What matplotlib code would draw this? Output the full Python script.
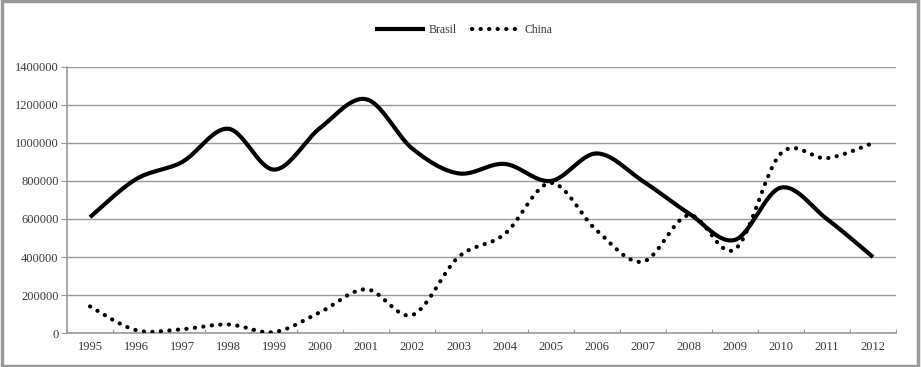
import numpy as np
import matplotlib
matplotlib.use("Agg")
import matplotlib.pyplot as plt
from matplotlib.lines import Line2D
from matplotlib.patches import Rectangle

years = ["1995", "1996", "1997", "1998", "1999", "2000", "2001", "2002", "2003",
         "2004", "2005", "2006", "2007", "2008", "2009", "2010", "2011", "2012"]
brasil = [610000, 810000, 900000, 1075000, 860000, 1080000, 1230000, 970000, 840000,
          890000, 800000, 945000, 800000, 630000, 490000, 765000, 600000, 400000]
china = [140000, 15000, 20000, 45000, 5000, 110000, 230000, 95000, 400000,
         520000, 790000, 540000, 375000, 620000, 440000, 945000, 920000, 1000000]
yticks = [0, 200000, 400000, 600000, 800000, 1000000, 1200000, 1400000]


def smooth(xs, ys, n=30):
    """Excel-style smoothed line (Catmull-Rom Bezier) through the data points."""
    xs = np.asarray(xs, float)
    ys = np.asarray(ys, float)
    px = np.concatenate([[xs[0]], xs, [xs[-1]]])
    py = np.concatenate([[ys[0]], ys, [ys[-1]]])
    outx, outy = [], []
    t = np.linspace(0, 1, n)
    for i in range(1, len(px) - 2):
        p0x, p1x, p2x, p3x = px[i - 1], px[i], px[i + 1], px[i + 2]
        p0y, p1y, p2y, p3y = py[i - 1], py[i], py[i + 1], py[i + 2]
        c1x = p1x + (p2x - p0x) / 6
        c1y = p1y + (p2y - p0y) / 6
        c2x = p2x - (p3x - p1x) / 6
        c2y = p2y - (p3y - p1y) / 6
        bx = (1 - t) ** 3 * p1x + 3 * (1 - t) ** 2 * t * c1x + 3 * (1 - t) * t ** 2 * c2x + t ** 3 * p2x
        by = (1 - t) ** 3 * p1y + 3 * (1 - t) ** 2 * t * c1y + 3 * (1 - t) * t ** 2 * c2y + t ** 3 * p2y
        if i > 1:
            bx, by = bx[1:], by[1:]
        outx.extend(bx)
        outy.extend(by)
    return np.array(outx), np.array(outy)


plt.rcParams['font.family'] = ['Liberation Serif', 'DejaVu Serif']

fig = plt.figure(figsize=(9.21, 3.67), dpi=100)
ax = fig.add_axes([67 / 921, 1 - 333 / 367, (896 - 67) / 921, (333 - 67) / 367])

x = np.arange(len(years))
bx, by = smooth(x, brasil)
cx, cy = smooth(x, china)

ax.plot(bx, by, color="black", lw=3.0, solid_capstyle="butt", zorder=3)
ax.plot(cx, cy, color="black", lw=3.0, linestyle=(0, (0.05, 2.0)),
        dash_capstyle="round", zorder=3)

ax.set_xlim(-0.5, len(years) - 0.5)
ax.set_ylim(0, 1400000)
ax.set_yticks(yticks)
ax.set_yticklabels([str(v) for v in yticks], fontsize=9, color="#3a3a3a")
ax.set_xticks(np.arange(len(years) + 1) - 0.5)
ax.set_xticklabels([])
ax.set_xticks(x, minor=True)
ax.set_xticklabels(years, minor=True, fontsize=9, color="#3a3a3a")
ax.tick_params(axis="x", which="minor", length=0, pad=6)
ax.tick_params(axis="x", which="major", length=3, color="#999999", direction="in")
ax.tick_params(axis="y", length=4, color="#999999", direction="out", pad=2)

ax.yaxis.grid(True, color="#999999", lw=1.0)
ax.set_axisbelow(True)
for s in ["top", "right"]:
    ax.spines[s].set_visible(False)
for s in ["left", "bottom"]:
    ax.spines[s].set_color("#999999")
    ax.spines[s].set_linewidth(1.2)

handles = [Line2D([], [], color="black", lw=3.0, solid_capstyle="butt"),
           Line2D([], [], color="black", lw=3.0, linestyle=(0, (0.05, 2.0)), dash_capstyle="round")]
fig.legend(handles, ["Brasil", "China"], loc="center", bbox_to_anchor=(464 / 921, 1 - 30 / 367),
           ncol=2, frameon=False, fontsize=8.5, handlelength=4.2, handletextpad=0.3,
           columnspacing=1.3, labelcolor="#3a3a3a")

fig.patches.append(Rectangle((0.002, 0.004), 0.995, 0.992, transform=fig.transFigure,
                             fill=False, edgecolor="#999999", lw=2.5))

fig.savefig("out.png", dpi=100)
